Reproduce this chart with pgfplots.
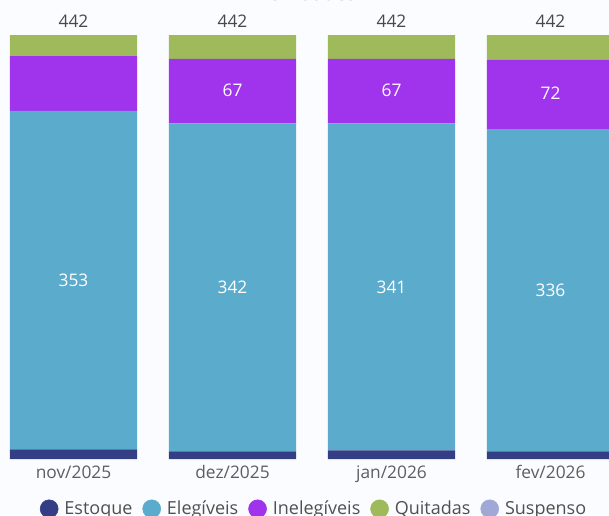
\documentclass[border=0pt]{standalone}
\usepackage{fontspec}
\setmainfont{Open Sans}
\usepackage{pgfplots}
\pgfplotsset{compat=1.18}
\definecolor{cEst}{RGB}{52,62,133}
\definecolor{cEle}{RGB}{91,171,204}
\definecolor{cIne}{RGB}{160,52,236}
\definecolor{cQui}{RGB}{158,186,90}
\definecolor{cSus}{RGB}{160,168,216}
\definecolor{bg}{RGB}{251,252,255}
\definecolor{tickc}{RGB}{96,94,92}
\definecolor{legc}{RGB}{80,80,80}
\definecolor{totc}{RGB}{72,72,72}
\definecolor{ttl}{RGB}{98,100,180}
\pgfplotsset{base/.style={at={(0pt,42pt)},anchor=south west,scale only axis,
  width=456.75pt,height=344.25pt,xmin=-0.4623,xmax=3.3679,ymin=0,ymax=478.5,
  axis line style={draw=none},major tick length=0pt,ytick=\empty}}
\begin{document}
\begin{tikzpicture}
\useasboundingbox (0,0) rectangle (456.75pt,386.25pt);
\clip (0,0) rectangle (456.75pt,386.25pt);
\fill[bg] (0,0) rectangle (456.75pt,386.25pt);
\begin{axis}[base, ybar stacked, bar width=0.8,
  xtick={0,1,2,3}, xticklabels={nov/2025,dez/2025,jan/2026,fev/2026},
  xticklabel style={font=\fontsize{13}{15}\selectfont, text=tickc, anchor=base, yshift=-14.25pt}]
\addplot[fill=cEst, draw=none] coordinates {(0,10) (1,8) (2,9) (3,8)};
\addplot[fill=cEle, draw=none] coordinates {(0,353) (1,342) (2,341) (3,336)};
\addplot[fill=cIne, draw=none] coordinates {(0,57) (1,67) (2,67) (3,72)};
\addplot[fill=cQui, draw=none] coordinates {(0,22) (1,25) (2,25) (3,26)};
\addplot[fill=cSus, draw=none] coordinates {(0,0) (1,0) (2,0) (3,0)};
\end{axis}
\begin{axis}[base, xtick=\empty,
  legend columns=5,
  legend style={draw=none, fill=none, at={(0.514,-0.1085)}, anchor=center,
    font=\fontsize{13.5}{15}\selectfont, text=legc,
    nodes={inner sep=0pt},
    /tikz/every even column/.append style={column sep=7.5pt},
    /tikz/every odd column/.append style={column sep=4.5pt}}]
\addplot[forget plot, draw=none, nodes near coords, point meta=explicit symbolic,
  nodes near coords align=center,
  every node near coord/.append style={font=\fontsize{13}{15}\selectfont, text=white}]
  coordinates {(0,186.5)[353] (1,179)[342] (2,179.5)[341] (3,176)[336]
               (1,384.5)[67] (2,384.5)[67] (3,381)[72]};
\addplot[forget plot, draw=none, nodes near coords, point meta=explicit symbolic,
  every node near coord/.append style={font=\fontsize{13}{15}\selectfont, text=totc, anchor=base, yshift=6pt}]
  coordinates {(0,442)[442] (1,442)[442] (2,442)[442] (3,442)[442]};
\addlegendimage{legend image code/.code={\fill[cEst] (0pt,0pt) circle (6.75pt);}}
\addlegendentry{Estoque}
\addlegendimage{legend image code/.code={\fill[cEle] (0pt,0pt) circle (6.75pt);}}
\addlegendentry{Elegíveis}
\addlegendimage{legend image code/.code={\fill[cIne] (0pt,0pt) circle (6.75pt);}}
\addlegendentry{Inelegíveis}
\addlegendimage{legend image code/.code={\fill[cQui] (0pt,0pt) circle (6.75pt);}}
\addlegendentry{Quitadas}
\addlegendimage{legend image code/.code={\fill[cSus] (0pt,0pt) circle (6.75pt);}}
\addlegendentry{Suspenso}
\end{axis}
\node[anchor=base, font=\fontsize{15}{17}\selectfont, text=ttl] at (234pt,386pt) {Unidades};
\end{tikzpicture}
\end{document}
